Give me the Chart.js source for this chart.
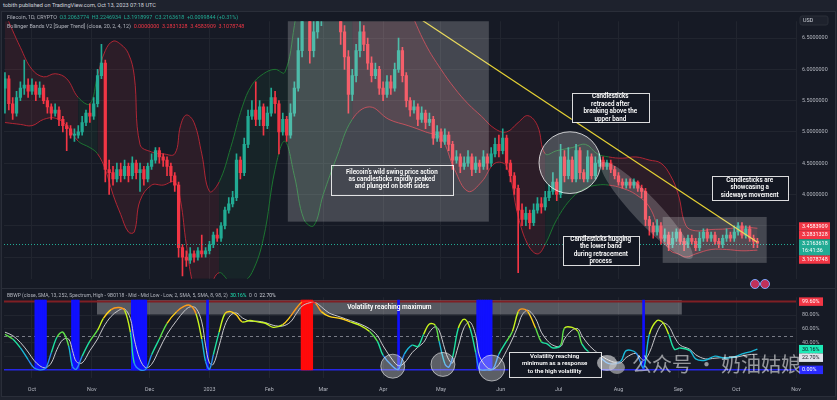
<!DOCTYPE html>
<html>
<head>
<meta charset="utf-8">
<script src="https://cdn.jsdelivr.net/npm/chart.js@4.4.1/dist/chart.umd.min.js"></script>
<style>
  body { margin: 0; width: 837px; height: 400px; overflow: hidden; background: #1e222d; position: relative; font-family: Roboto, "Liberation Sans", sans-serif; }
  .abs { position: absolute; white-space: nowrap; }
  #panel { left: 1px; top: 11px; width: 835px; height: 386px; background: #161a25; border: 1px solid #2a2e39; box-sizing: border-box; }
  #sep { left: 1px; top: 288px; width: 835px; height: 1px; background: #2a2e39; }
  #main { position: absolute; left: 0; top: 12px; }
  #sub { position: absolute; left: 0; top: 288px; }
  .hdr { left: 3px; top: 2px; font-size: 5.6px; color: #d1d4dc; }
  .leg { left: 7px; font-size: 5.4px; color: #b2b5be; }
  .teal { color: #22ab94; }
  .red { color: #f23645; }
  .wm { left: 632px; top: 349px; font-family: "Noto Sans CJK SC", sans-serif; font-size: 20px; color: rgba(255,255,255,0.55); }
  .bub { position: absolute; border-radius: 50%; background: rgba(255,255,255,0.55); }
</style>
</head>
<body>
<div id="panel" class="abs"></div>
<div class="abs hdr">tobith published on TradingView.com, Oct 13, 2023 07:18 UTC</div>
<canvas id="main" width="837" height="276"></canvas>
<div id="sep" class="abs"></div>
<canvas id="sub" width="837" height="110"></canvas>
<div class="abs leg" style="top:14px">Filecoin, 1D, CRYPTO&nbsp; <span class="teal">O3.2063774&nbsp; H3.2246934&nbsp; L3.1918997&nbsp; C3.2163618&nbsp; +0.0099844 (+0.31%)</span></div>
<div class="abs leg" style="top:23px">Bollinger Bands V2 [Super Trend] (close, 20, 2, 4, 12)&nbsp; <span class="red">0.0000000&nbsp; 3.2831328&nbsp; 3.4583909&nbsp; 3.1078748</span></div>
<div class="abs leg" style="top:292px;font-size:5px">BBWP (close, SMA, 13, 252, Spectrum, High - 9B0118 - Mid - Mid Low - Low, 2, SMA, 5, SMA, 8, 98, 2)&nbsp; <span style="color:#1de9b6">30.16%</span>&nbsp; 0&nbsp; 0&nbsp; <span style="color:#d1d4dc">22.70%</span></div>
<div class="bub" style="left:597px;top:355px;width:20px;height:16px"></div>
<div class="bub" style="left:609px;top:361px;width:16px;height:13px;background:rgba(200,200,200,0.6)"></div>
<div class="abs wm">公众号 · 奶油姑娘</div>
<div class="bub" style="left:750px;top:279px;width:8px;height:8px;background:#c0305a;border:1px solid #7aa7ff"></div>
<div class="bub" style="left:760px;top:279px;width:8px;height:8px;background:#c0305a;border:1px solid #7aa7ff"></div>
<script>
// ---- price candles: 2-day candles starting 14 days before Oct 1, 2022 (day 0) ----
const candleStartDay = -14;
const candleStepDays = 2;
const firstOpen = 5.7;
const closes = [5.85,5.45,5.3,5.55,5.7,5.75,5.65,5.75,5.6,5.7,
  5.5,5.4,5.3,5.35,5.2,5.1,5.05,4.95,4.95,5.0,
  5.15,5.3,5.25,5.45,5.9,6.1,4.4,4.35,4.25,4.4,
  4.3,4.45,4.3,4.5,4.35,4.4,4.25,4.45,4.55,4.7,
  4.6,4.55,4.45,4.3,4.15,3.15,3.0,2.95,3.05,3.0,
  3.1,3.05,3.1,3.2,3.35,3.3,3.5,3.75,3.85,3.95,
  4.55,4.35,4.8,5.25,5.35,5.2,5.4,5.1,5.3,5.55,
  5.45,5.0,5.2,4.95,5.3,5.7,6.3,6.9,7.3,6.3,
  6.6,6.8,7.6,8.0,7.6,7.5,7.2,6.6,6.2,5.6,
  5.9,6.3,6.6,6.4,6.1,5.9,6.0,5.7,5.6,5.8,
  5.7,6.0,6.3,5.9,5.5,5.35,5.4,5.2,5.3,5.15,
  5.2,4.9,5.0,4.85,4.95,4.8,4.55,4.6,4.45,4.5,
  4.6,4.4,4.5,4.45,4.6,4.5,4.65,4.8,4.7,4.9,
  4.5,4.3,4.1,3.75,3.6,3.7,3.55,3.75,3.85,3.8,
  3.95,4.05,4.2,4.0,4.6,4.3,4.55,4.25,4.7,4.35,
  4.25,4.6,4.3,4.5,4.55,4.45,4.5,4.4,4.3,4.2,
  4.15,4.2,4.15,4.2,4.1,4.05,3.6,3.5,3.4,3.5,
  3.3,3.35,3.2,3.3,3.4,3.25,3.2,3.3,3.25,3.15,
  3.3,3.4,3.3,3.35,3.25,3.2,3.3,3.35,3.3,3.4,
  3.5,3.35,3.45,3.3,3.25,3.22];
const highs = [5.95,5.9,5.55,5.65,5.8,6.15,5.85,5.85,5.8,5.8,
  5.75,5.55,5.45,5.45,5.4,5.25,5.15,5.1,5.05,5.1,
  5.25,5.35,5.45,5.55,6.0,6.4,6.15,4.55,4.45,4.5,
  4.5,4.55,4.5,4.6,4.55,4.5,4.45,4.5,4.65,4.75,
  4.75,4.65,4.6,4.5,4.35,4.2,3.2,3.1,3.15,3.1,
  3.15,3.35,3.15,3.25,3.4,3.45,3.55,3.8,3.95,4.05,
  4.65,4.6,4.9,5.35,5.5,5.8,5.5,5.45,5.4,5.7,
  5.65,5.5,5.3,5.25,5.45,5.8,6.5,7.1,7.6,7.4,
  6.8,7.0,7.8,8.5,8.2,7.8,7.6,7.3,6.7,6.3,
  6.0,6.4,6.8,6.7,6.5,6.2,6.1,6.05,5.8,5.9,
  5.9,6.1,6.5,6.35,5.95,5.55,5.5,5.45,5.4,5.35,
  5.3,5.25,5.1,5.05,5.05,5.0,4.85,4.7,4.65,4.6,
  4.7,4.65,4.6,4.55,4.7,4.65,4.75,4.9,4.95,5.05,
  4.95,4.55,4.35,4.15,3.85,3.8,3.75,3.85,3.95,3.95,
  4.05,4.15,4.35,4.25,4.8,4.7,4.75,4.6,4.8,4.75,
  4.4,4.7,4.65,4.6,4.65,4.6,4.55,4.55,4.45,4.35,
  4.25,4.25,4.25,4.25,4.22,4.15,4.1,3.65,3.55,3.6,
  3.55,3.45,3.4,3.4,3.45,3.45,3.3,3.35,3.35,3.3,
  3.4,3.45,3.45,3.4,3.4,3.3,3.35,3.45,3.4,3.5,
  3.55,3.55,3.5,3.5,3.35,3.3];
const lows = [5.3,5.35,5.2,5.25,5.5,5.6,5.55,5.6,5.5,5.55,
  5.45,5.3,5.2,5.25,5.1,5.0,4.7,4.9,4.85,4.9,
  4.95,5.1,5.15,5.2,5.4,5.85,4.2,4.0,4.15,4.2,
  4.2,4.25,4.2,4.25,4.25,4.05,4.15,4.2,4.4,4.5,
  4.5,4.45,4.3,4.2,4.05,3.0,2.7,2.85,2.9,2.92,
  2.95,3.0,3.0,3.05,3.15,3.25,3.25,3.45,3.7,3.8,
  3.9,4.25,4.3,4.75,5.2,5.1,5.1,4.95,5.05,5.25,
  5.3,4.65,4.95,4.85,4.9,5.25,5.65,6.2,6.8,6.1,
  6.2,6.5,6.7,7.4,7.4,7.2,7.0,6.4,6.0,5.3,
  5.5,5.8,6.2,6.3,6.0,5.8,5.85,5.6,5.5,5.55,
  5.6,5.65,5.95,5.8,5.4,5.25,5.3,5.1,5.15,5.05,
  5.1,4.8,4.85,4.75,4.8,4.7,4.4,4.5,4.35,4.4,
  4.45,4.3,4.35,4.35,4.4,4.4,4.45,4.6,4.6,4.65,
  4.4,4.2,4.0,2.75,3.5,3.5,3.45,3.5,3.7,3.7,
  3.75,3.9,4.0,3.9,3.95,4.2,4.25,4.2,4.2,4.25,
  4.2,4.2,4.25,4.25,4.45,4.4,4.4,4.35,4.25,4.15,
  4.1,4.1,4.1,4.1,4.05,3.95,3.5,3.35,3.3,3.35,
  3.2,3.25,3.1,3.15,3.25,3.2,3.1,3.15,3.2,3.1,
  3.1,3.25,3.25,3.25,3.2,3.15,3.15,3.25,3.25,3.25,
  3.35,3.3,3.3,3.25,3.15,3.15];

// ---- Bollinger bands ----
const bandDays = [-14,-6,0,6,12,18,24,30,34,38,42,46,50,53,56,62,68,74,77,80,84,88,92,97,103,109,114,120,126,131,
  136,141,146,151,158,166,175,185,195,204,212,219,226,233,240,246,252,257,262,266,272,280,287,293,299,306,313,320,326,331,
  335,339,344,352,360,368,376];
const bandUpper = [6.9,6.35,6.0,5.88,5.93,5.85,5.55,5.45,5.9,6.3,
  6.45,6.4,6.25,5.9,4.8,4.68,4.65,4.65,5.1,5.27,
  5.15,4.65,4.05,4.2,4.75,5.4,5.75,5.93,6.0,5.95,
  6.7,7.8,8.8,9.2,9.3,8.8,8.2,7.6,7.0,6.4,
  6.0,5.7,5.45,5.25,5.05,5.0,5.15,5.26,5.1,4.65,
  4.7,4.75,4.8,4.65,4.6,4.58,4.6,4.55,4.5,4.3,
  4.0,3.5,3.42,3.44,3.45,3.48,3.46];
const bandLower = [5.15,5.12,5.1,5.2,5.22,5.1,4.85,4.75,4.65,4.4,
  4.0,3.68,3.4,3.4,3.9,4.15,4.15,4.2,3.9,3.2,
  2.5,2.3,2.5,2.75,2.6,2.6,2.75,3.3,4.4,4.85,
  4.3,3.6,3.5,4.0,4.6,5.2,5.4,5.2,5.1,5.0,
  4.9,4.4,4.05,4.2,4.5,4.45,3.65,3.2,3.05,3.2,
  3.6,3.95,4.1,4.15,4.15,4.1,4.0,3.8,3.35,3.1,
  3.05,3.0,3.05,3.12,3.12,3.1,3.11];
const bandTrend = [0,0,0,0,0,0,1,1,0,0, 0,0,0,0,0,0,0,0,0,0, 0,0,0,1,1,1,1,1,1,1,
  1,1,1,1,1,0,0,0,0,0, 0,0,0,0,0,0,0,0,0,1, 1,1,1,1,0,0,0,0,0,0, 0,0,0,0,0,0,0];

const trendDays = [201, 376];
const trendPrices = [6.81, 3.235];

const lastPrice = 3.2163618;
const bandTagValues = [3.4583909, 3.2831328, 3.1078748];

// ---- BBWP panel ----
const bbwpDays = [-14,-10,-6,-2,1,4,7,10,13,16,19,21,23,26,30,34,37,41,45,48,51,53,56,59,62,66,70,75,79,82,
  85,88,90,92,94,97,100,103,106,109,113,117,121,125,130,134,137,140,144,147,150,154,160,165,170,175,179,182,187,190,
  193,197,200,203,206,209,211,214,216,218,221,224,227,230,232,236,239,242,246,249,252,254,257,261,264,267,270,274,276,280,
  283,285,289,294,299,305,308,313,317,320,324,327,330,333,336,341,344,349,354,359,364,369,373,376];
const bbwp = [52,45,32,15,3,0,2,25,48,55,35,5,1,20,42,58,75,88,91,87,55,10,0,1,22,45,68,85,93,94,
  82,45,12,1,22,55,82,85,80,70,72,70,68,62,66,78,90,99,100,97,85,78,75,70,65,56,42,21,5,1,
  23,36,34,52,67,65,42,9,4,18,61,74,61,25,1,0,1,23,42,56,85,89,85,61,41,38,32,36,61,62,
  56,38,25,19,9,12,28,25,3,52,72,69,52,30,32,28,16,14,20,17,19,24,27,30.16];
const bbwpMa = [55,50,40,26,14,6,3,10,30,44,45,28,12,10,28,45,62,78,87,89,75,45,15,3,8,30,52,72,86,92,
  90,70,35,10,8,35,65,80,83,76,71,71,69,65,64,70,82,93,98,98,92,83,77,72,67,60,50,35,14,6,
  10,25,33,40,55,63,58,30,15,10,35,62,70,50,20,3,1,8,28,45,65,80,87,75,55,43,36,34,45,58,
  60,50,35,23,14,10,18,24,14,25,55,68,64,48,36,30,22,16,17,18,18,21,22.5,22.7];
const blueBarDays = [2,3,4,5,6,7,21,22,23,24,52,53,54,55,56,57,58,59,91,190,231,232,233,234,235,236,237,238,317];
const redBarDays = [140,141,142,143,144,145];
const bbwpNow = 30.16;
const bbwpMaNow = 22.7;

// ---- axes ----
const monthDays = [0,31,61,92,123,151,182,212,243,273,304,335,365,396];
const monthLabels = ['Oct','Nov','Dec','2023','Feb','Mar','Apr','May','Jun','Jul','Aug','Sep','Oct','Nov'];
const priceTicks = [3, 3.5, 4, 4.5, 5, 5.5, 6, 6.5];
const pctTicks = [20, 40, 60, 80];

// ---- annotations (in day / price units) ----
const shadeBoxes = [
  { d1: 132.6, d2: 236.8, p1: 7.5, p2: 3.566 },
  { d1: 326.9, d2: 380.8, p1: 3.641, p2: 2.907 }
];
const circleNote = { d: 278.8, p: 4.509, rDays: 16 };
const hugEllipse = { d1: 295.3, p1: 4.509, d2: 342.0, p2: 2.982, half: 13 };
const mainNotes = [
  { d1: 154.9, d2: 218.1, p1: 4.479, p2: 4.0, fill: null,
    lines: ["Filecoin's wild swing price action", 'as candlesticks rapidly peaked', 'and plunged on both sides'] },
  { d1: 279.8, d2: 319.7, p1: 5.617, p2: 5.153, fill: '#131722',
    lines: ['Candlesticks', 'retraced after', 'breaking above the', 'upper band'] },
  { d1: 352.3, d2: 391.7, p1: 4.30, p2: 3.91, fill: '#131722',
    lines: ['Candlesticks are', 'showcasing a', 'sideways movement'] },
  { d1: 275.1, d2: 314.5, p1: 3.341, p2: 2.877, fill: '#131722',
    lines: ['Candlesticks hugging', 'the lower band', 'during retracement', 'process'] }
];
const maxBar = { d1: 33.7, d2: 336.8, p1: 102, p2: 80.8, text: 'Volatility reaching maximum' };
const minNote = { d1: 247, d2: 294.8, p1: 26.5, p2: -9.3,
  lines: ['Volatility reaching', 'minimum as a response', 'to the high volatility'] };
const subCircles = [[187, 5.3, 12], [213, 7.9, 12], [238.3, 2.6, 13]];

const UP = '#22ab94', DOWN = '#f23645';
const RED_LINE = 'rgba(200,40,55,0.85)', RED_FILL = 'rgba(242,54,69,0.10)';
const GREEN_LINE = 'rgba(30,120,50,0.95)', GREEN_FILL = 'rgba(40,170,80,0.08)';
const GRID = '#21252f';
const TXT = '#b2b5be';

Chart.defaults.font.family = 'Roboto';
Chart.defaults.animation = false;

const xMin = -14.5, xMax = 396;

function drawNote(ctx, x1, y1, x2, y2, lines, fill, size) {
  if (fill) { ctx.fillStyle = fill; ctx.fillRect(x1, y1, x2 - x1, y2 - y1); }
  ctx.strokeStyle = 'rgba(255,255,255,0.85)';
  ctx.lineWidth = 1;
  ctx.strokeRect(Math.round(x1) + 0.5, Math.round(y1) + 0.5, Math.round(x2 - x1), Math.round(y2 - y1));
  ctx.fillStyle = '#ffffff';
  ctx.font = `600 ${size}px Roboto`;
  ctx.textAlign = 'center';
  ctx.textBaseline = 'middle';
  const cx = (x1 + x2) / 2, cy = (y1 + y2) / 2, lh = size + 1.1;
  lines.forEach((t, i) => ctx.fillText(t, cx, cy + (i - (lines.length - 1) / 2) * lh));
}

function drawTags(ctx, left, width, tags) {
  // tags: {y, bg, fg, lines, anchor}; anchor stays, the others are pushed away from it
  const lh = 7.5;
  tags.forEach(t => { t.h = t.lines.length * lh + 1; t.top = t.y - lh / 2 - 0.5; });
  const anchor = tags.find(t => t.anchor);
  const above = tags.filter(t => t.y < anchor.y).sort((a, b) => b.y - a.y);
  const below = tags.filter(t => t.y > anchor.y).sort((a, b) => a.y - b.y);
  let lim = anchor.top;
  above.forEach(t => { if (t.top + t.h > lim) t.top = lim - t.h; lim = t.top; });
  lim = anchor.top + anchor.h;
  below.forEach(t => { if (t.top < lim) t.top = lim; lim = t.top + t.h; });
  tags.forEach(t => {
    ctx.fillStyle = t.bg;
    ctx.fillRect(left, t.top, width, t.h);
    ctx.fillStyle = t.fg;
    ctx.font = '5.4px Roboto';
    ctx.textAlign = 'left';
    ctx.textBaseline = 'middle';
    t.lines.forEach((s, i) => ctx.fillText(s, left + 3, t.top + 0.5 + lh / 2 + i * lh));
  });
}

const mainPlugin = {
  id: 'mainNotes',
  afterDatasetsDraw(chart) {
    const { ctx, chartArea: a, scales: { x, y } } = chart;
    const px = d => x.getPixelForValue(d), py = v => y.getPixelForValue(v);
    ctx.save();
    ctx.beginPath(); ctx.rect(a.left, a.top, a.width, a.height); ctx.clip();

    ctx.strokeStyle = UP; ctx.lineWidth = 1; ctx.setLineDash([1, 2]);
    const ly = Math.round(py(lastPrice)) + 0.5;
    ctx.beginPath(); ctx.moveTo(a.left, ly); ctx.lineTo(a.right, ly); ctx.stroke();
    ctx.setLineDash([]);

    ctx.fillStyle = 'rgba(255,255,255,0.2)';
    shadeBoxes.forEach(b => ctx.fillRect(px(b.d1), py(b.p1), px(b.d2) - px(b.d1), py(b.p2) - py(b.p1)));

    const cx = px(circleNote.d), cy = py(circleNote.p), r = px(circleNote.d + circleNote.rDays) - cx;
    ctx.beginPath(); ctx.arc(cx, cy, r, 0, Math.PI * 2);
    ctx.fillStyle = 'rgba(255,255,255,0.22)'; ctx.fill();
    ctx.strokeStyle = 'rgba(255,255,255,0.75)'; ctx.lineWidth = 1; ctx.stroke();

    const e1x = px(hugEllipse.d1), e1y = py(hugEllipse.p1), e2x = px(hugEllipse.d2), e2y = py(hugEllipse.p2);
    ctx.beginPath();
    ctx.ellipse((e1x + e2x) / 2, (e1y + e2y) / 2, Math.hypot(e2x - e1x, e2y - e1y) / 2, hugEllipse.half,
      Math.atan2(e2y - e1y, e2x - e1x), 0, Math.PI * 2);
    ctx.fillStyle = 'rgba(255,255,255,0.2)'; ctx.fill();

    mainNotes.forEach(n => drawNote(ctx, px(n.d1), py(n.p1), px(n.d2), py(n.p2), n.lines, n.fill, 6.3));
    ctx.restore();
  },
  afterDraw(chart) {
    const { ctx, scales: { y } } = chart;
    ctx.save();
    ctx.fillStyle = '#1e222d';
    ctx.strokeStyle = '#2a2e39';
    ctx.beginPath(); ctx.roundRect(800, 4, 28, 9, 2); ctx.fill(); ctx.stroke();
    ctx.fillStyle = '#d1d4dc'; ctx.font = '5.4px Roboto'; ctx.textBaseline = 'middle'; ctx.textAlign = 'left';
    ctx.fillText('USD', 803, 8.8);
    const tags = bandTagValues.map(v => ({ y: y.getPixelForValue(v), bg: DOWN, fg: '#fff', lines: [v.toFixed(7)] }));
    tags.push({ y: y.getPixelForValue(lastPrice), bg: UP, fg: '#fff', lines: [lastPrice.toFixed(7), '16:41:36'], anchor: true });
    drawTags(ctx, 799, 31, tags);
    ctx.restore();
  }
};

const subPlugin = {
  id: 'subNotes',
  beforeDatasetsDraw(chart) {
    const { ctx, chartArea: a, scales: { x, y } } = chart;
    const px = d => x.getPixelForValue(d), py = v => y.getPixelForValue(v);
    ctx.save();
    ctx.fillStyle = 'rgba(255,255,255,0.28)';
    ctx.fillRect(px(maxBar.d1), py(maxBar.p1), px(maxBar.d2) - px(maxBar.d1), py(maxBar.p2) - py(maxBar.p1));
    ctx.strokeStyle = '#7f1f24'; ctx.lineWidth = 2;
    ctx.beginPath(); ctx.moveTo(a.left, py(99.6)); ctx.lineTo(a.right, py(99.6)); ctx.stroke();
    ctx.strokeStyle = '#787b86'; ctx.lineWidth = 1; ctx.setLineDash([3, 3]);
    const my = Math.round(py(50)) + 0.5;
    ctx.beginPath(); ctx.moveTo(a.left, my); ctx.lineTo(a.right, my); ctx.stroke();
    ctx.setLineDash([]);
    ctx.strokeStyle = '#2626e6'; ctx.lineWidth = 1.5;
    ctx.beginPath(); ctx.moveTo(a.left, py(0)); ctx.lineTo(a.right, py(0)); ctx.stroke();
    ctx.restore();
  },
  afterDatasetsDraw(chart) {
    const { ctx, chartArea: a, scales: { x, y } } = chart;
    const px = d => x.getPixelForValue(d), py = v => y.getPixelForValue(v);
    ctx.save();
    ctx.fillStyle = '#ffffff';
    ctx.font = '600 6.6px Roboto'; ctx.textAlign = 'center'; ctx.textBaseline = 'middle';
    ctx.fillText(maxBar.text, (px(maxBar.d1) + px(maxBar.d2)) / 2, (py(maxBar.p1) + py(maxBar.p2)) / 2);
    subCircles.forEach(([d, v, r]) => {
      ctx.beginPath(); ctx.arc(px(d), py(v), r, 0, Math.PI * 2);
      ctx.fillStyle = 'rgba(255,255,255,0.3)'; ctx.fill();
      ctx.strokeStyle = 'rgba(255,255,255,0.55)'; ctx.lineWidth = 1; ctx.stroke();
    });
    drawNote(ctx, px(minNote.d1), py(minNote.p1), px(minNote.d2), py(minNote.p2), minNote.lines, '#131722', 6.1);
    ctx.restore();
  },
  afterDraw(chart) {
    const { ctx, scales: { y } } = chart;
    ctx.save();
    drawTags(ctx, 799, 24, [
      { y: y.getPixelForValue(99.6), bg: DOWN, fg: '#fff', lines: ['99.60%'] },
      { y: y.getPixelForValue(bbwpNow), bg: '#1de9b6', fg: '#131722', lines: [bbwpNow.toFixed(2) + '%'], anchor: true },
      { y: y.getPixelForValue(bbwpMaNow), bg: '#e0e3eb', fg: '#131722', lines: [bbwpMaNow.toFixed(2) + '%'] },
      { y: y.getPixelForValue(0), bg: '#2a2aff', fg: '#fff', lines: ['0.00%'] }
    ]);
    ctx.restore();
  }
};

function specColor(v) {
  if (v >= 95) return '#ff1f1f';
  if (v >= 84) return '#ff9a1a';
  if (v >= 72) return '#ffd11a';
  if (v >= 58) return '#c8f51e';
  if (v >= 44) return '#5fe04a';
  if (v >= 30) return '#1fe0a0';
  if (v >= 15) return '#19b8d8';
  return '#2a8cf0';
}

const opens = closes.map((c, i) => (i ? closes[i - 1] : firstOpen));
const candleDays = closes.map((c, i) => candleStartDay + i * candleStepDays);
const candleColors = closes.map((c, i) => (c >= opens[i] ? UP : DOWN));

const xAxis = (showLabels) => ({
  type: 'linear', min: xMin, max: xMax, offset: false,
  afterBuildTicks: s => { s.ticks = monthDays.map(v => ({ value: v })); },
  afterFit: s => { s.height = showLabels ? 20 : 0; },
  ticks: {
    display: showLabels, color: TXT, font: { size: 5.4 }, padding: 8, autoSkip: false, maxRotation: 0,
    callback: v => monthLabels[monthDays.indexOf(v)]
  },
  grid: { color: GRID, drawTicks: false, offset: false },
  border: { display: false }
});

new Chart(document.getElementById('main'), {
  type: 'bar',
  data: {
    datasets: [
      {
        type: 'line', data: bandDays.map((d, i) => ({ x: d, y: bandUpper[i] })),
        borderWidth: 1, pointRadius: 0, tension: 0.4, fill: '+1', backgroundColor: RED_FILL, borderColor: RED_LINE,
        segment: {
          borderColor: c => (bandTrend[c.p0DataIndex] ? GREEN_LINE : RED_LINE),
          backgroundColor: c => (bandTrend[c.p0DataIndex] ? GREEN_FILL : RED_FILL)
        },
        order: 5
      },
      {
        type: 'line', data: bandDays.map((d, i) => ({ x: d, y: bandLower[i] })),
        borderWidth: 1, pointRadius: 0, tension: 0.4, fill: false, borderColor: RED_LINE,
        segment: { borderColor: c => (bandTrend[c.p0DataIndex] ? GREEN_LINE : RED_LINE) },
        order: 5
      },
      {
        data: candleDays.map((d, i) => ({ x: d, y: [lows[i], highs[i]] })),
        backgroundColor: candleColors, barThickness: 1, grouped: false, order: 3
      },
      {
        data: candleDays.map((d, i) => ({ x: d, y: [opens[i], closes[i]] })),
        backgroundColor: candleColors, barThickness: 2.6, minBarLength: 1, grouped: false, order: 2
      },
      {
        type: 'line', data: trendDays.map((d, i) => ({ x: d, y: trendPrices[i] })),
        borderColor: '#e6d234', borderWidth: 1.2, pointRadius: 0, order: 1
      }
    ]
  },
  options: {
    responsive: false,
    devicePixelRatio: 1,
    layout: { padding: { left: 4, right: 0, top: 0, bottom: 1 } },
    plugins: { legend: { display: false }, tooltip: { enabled: false } },
    scales: {
      x: xAxis(false),
      y: {
        position: 'right', min: 2.653, max: 6.769,
        afterBuildTicks: s => { s.ticks = priceTicks.map(v => ({ value: v })); },
        afterFit: s => { s.width = 41; },
        ticks: { color: TXT, font: { size: 5.4 }, padding: 6, callback: v => Number(v).toFixed(7) },
        grid: { color: GRID, drawTicks: false },
        border: { display: false }
      }
    }
  },
  plugins: [mainPlugin]
});

new Chart(document.getElementById('sub'), {
  type: 'bar',
  data: {
    datasets: [
      {
        data: blueBarDays.map(d => ({ x: d, y: [0, 102] })),
        backgroundColor: '#1010ff', barThickness: 2, grouped: false, order: 4
      },
      {
        data: redBarDays.map(d => ({ x: d, y: [0, 102] })),
        backgroundColor: '#ff0a0a', barThickness: 2, grouped: false, order: 4
      },
      {
        type: 'line', data: bbwpDays.map((d, i) => ({ x: d, y: bbwpMa[i] })),
        borderColor: '#c9c9cc', borderWidth: 1, pointRadius: 0, tension: 0.35, order: 2
      },
      {
        type: 'line', data: bbwpDays.map((d, i) => ({ x: d, y: bbwp[i] })),
        borderWidth: 1.4, pointRadius: 0, tension: 0.35, borderColor: '#1fe0a0',
        segment: { borderColor: c => specColor((bbwp[c.p0DataIndex] + bbwp[c.p1DataIndex]) / 2) },
        order: 1
      }
    ]
  },
  options: {
    responsive: false,
    devicePixelRatio: 1,
    layout: { padding: { left: 4, right: 0, top: 1, bottom: 0 } },
    plugins: { legend: { display: false }, tooltip: { enabled: false } },
    scales: {
      x: xAxis(true),
      y: {
        position: 'right', min: -11.9, max: 106,
        afterBuildTicks: s => { s.ticks = pctTicks.map(v => ({ value: v })); },
        afterFit: s => { s.width = 41; },
        ticks: { color: TXT, font: { size: 5.4 }, padding: 6, callback: v => Number(v).toFixed(2) + '%' },
        grid: { color: GRID, drawTicks: false },
        border: { display: false }
      }
    }
  },
  plugins: [subPlugin]
});
</script>
</body>
</html>
